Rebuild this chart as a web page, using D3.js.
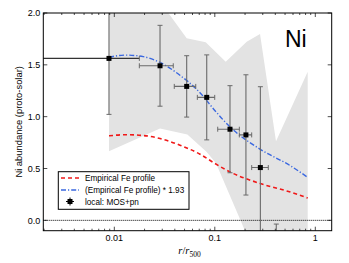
<!DOCTYPE html>
<html><head><meta charset="utf-8">
<script src="https://cdn.jsdelivr.net/npm/d3@7"></script>
<style>body{margin:0;background:#fff}svg{display:block}</style>
</head><body>
<svg id="c" width="349" height="263"></svg>
<script>
// ---- data ----
const pointR   = [0.00885, 0.0285, 0.0525, 0.0831, 0.1416, 0.204, 0.284, 0.409];
const pointRlo = [0,       0.01774, 0.0395, 0.067, 0.1069, 0.1754, 0.2328, 0.37];
const pointRhi = [0.01774, 0.0386, 0.0646, 0.0998, 0.1754, 0.2328, 0.3405, 0.45];
const pointV   = [1.562, 1.491, 1.292, 1.186, 0.879, 0.824, 0.509, -0.45];
const pointErr = [0.54, 0.39, 0.296, 0.41, 0.42, 0.58, 0.78, 0.414];

const feR = [0.00886, 0.01278, 0.01943, 0.02849, 0.04496, 0.0712, 0.1005, 0.1416, 0.2836, 0.5639, 0.840];
const feV = [0.815, 0.826, 0.818, 0.789, 0.725, 0.638, 0.548, 0.467, 0.355, 0.273, 0.215];
const feScale = 1.93;

const bandUpperR = [0.00885, 0.0345, 0.0525, 0.0812, 0.1284, 0.2077, 0.2818, 0.4064, 0.840, 0.840];
const bandUpperV = [2.30, 2.00, 1.756, 1.717, 1.529, 1.723, 1.797, 0.763, 1.433, -0.5];
const bandLowerR = [0.23, 0.2001, 0.1028, 0.0831, 0.0533, 0.0285, 0.00885];
const bandLowerV = [-0.5, -0.103, 0.551, 0.660, 0.828, 0.886, 0.667];

const yTicks = [0.0, 0.5, 1.0, 1.5, 2.0];
const xTicks = [0.01, 0.1, 1];
const xTickLabels = ["0.01", "0.1", "1"];
const legendLabels = ["Empirical Fe profile", "(Empirical Fe profile) * 1.93", "local: MOS+pn"];

// ---- layout ----
const L = 43.3, R = 331.7, T = 13, B = 230.7;
const svg = d3.select("#c");
const x = d3.scaleLog().domain([0.001965, 1.456]).range([L, R]);
const y = d3.scaleLinear().domain([-0.1, 2.0]).range([B, T]);
const font = "'Liberation Sans', Arial, sans-serif";

svg.append("clipPath").attr("id","clip").append("rect")
  .attr("x", L).attr("y", T).attr("width", R - L).attr("height", B - T);
const g = svg.append("g").attr("clip-path", "url(#clip)");

// band
const bandPts = bandUpperR.map((r,i)=>[r, bandUpperV[i]]).concat(bandLowerR.map((r,i)=>[r, bandLowerV[i]]));
g.append("path")
  .attr("d", d3.line().x(d=>x(d[0])).y(d=>y(d[1]))(bandPts) + "Z")
  .attr("fill", "#e3e3e3").attr("stroke", "none");

// zero dotted line
g.append("line").attr("x1", L).attr("x2", R).attr("y1", y(0)).attr("y2", y(0))
  .attr("stroke", "#000").attr("stroke-width", 1).attr("stroke-dasharray", "1,1");

// curves
const line = d3.line().x(d=>x(d[0])).y(d=>y(d[1])).curve(d3.curveMonotoneX);
g.append("path").attr("d", line(feR.map((r,i)=>[r, feV[i]])))
  .attr("fill","none").attr("stroke","#f01818").attr("stroke-width",1.6).attr("stroke-dasharray","4,3");
g.append("path").attr("d", line(feR.map((r,i)=>[r, feV[i]*feScale])))
  .attr("fill","none").attr("stroke","#3a68e0").attr("stroke-width",1.4).attr("stroke-dasharray","5,2,1.2,2");

// error bars
const eb = "#6a6a6a", cap = 2.5;
pointR.forEach((r,i)=>{
  const cx = x(r), cy = y(pointV[i]);
  const yt = y(pointV[i]+pointErr[i]), yb = y(pointV[i]-pointErr[i]);
  const xl = x(Math.max(pointRlo[i], x.domain()[0]*0.5)), xr = x(pointRhi[i]);
  g.append("line").attr("x1",cx).attr("x2",cx).attr("y1",yt).attr("y2",yb).attr("stroke",eb).attr("stroke-width",1.1);
  [yt,yb].forEach(yy=>g.append("line").attr("x1",cx-cap).attr("x2",cx+cap).attr("y1",yy).attr("y2",yy).attr("stroke",eb).attr("stroke-width",1));
  g.append("line").attr("x1",xl).attr("x2",xr).attr("y1",cy).attr("y2",cy).attr("stroke", i===0 ? "#333" : eb).attr("stroke-width",1.1);
  [xl,xr].forEach(xx=>g.append("line").attr("x1",xx).attr("x2",xx).attr("y1",cy-cap).attr("y2",cy+cap).attr("stroke",eb).attr("stroke-width",1));
  g.append("rect").attr("x",cx-2.5).attr("y",cy-2.5).attr("width",5).attr("height",5).attr("fill","#000");
});

// frame
svg.append("rect").attr("x",L).attr("y",T).attr("width",R-L).attr("height",B-T)
  .attr("fill","none").attr("stroke","#000").attr("stroke-width",1);

// ticks
const tickG = svg.append("g").attr("stroke","#000").attr("stroke-width",0.7);
yTicks.forEach(v=>{
  tickG.append("line").attr("x1",L).attr("x2",L+4).attr("y1",y(v)).attr("y2",y(v));
  tickG.append("line").attr("x1",R).attr("x2",R-4).attr("y1",y(v)).attr("y2",y(v));
});
const minor = [];
for (let e=-3; e<=0; e++) for (let k=1;k<=9;k++){ const v=k*Math.pow(10,e); if (v>=x.domain()[0] && v<=x.domain()[1]) minor.push([v,k===1]); }
minor.forEach(([v,maj])=>{
  const len = maj ? 4 : 2;
  tickG.append("line").attr("x1",x(v)).attr("x2",x(v)).attr("y1",B).attr("y2",B-len);
  tickG.append("line").attr("x1",x(v)).attr("x2",x(v)).attr("y1",T).attr("y2",T+len);
});

// tick labels
yTicks.forEach(v=>{
  svg.append("text").attr("x",L-3).attr("y",y(v)+3.2).attr("text-anchor","end")
    .attr("font-family",font).attr("font-size",9).text(d3.format(".1f")(v));
});
xTicks.forEach((v,i)=>{
  svg.append("text").attr("x",x(v)).attr("y",B+10).attr("text-anchor","middle")
    .attr("font-family",font).attr("font-size",9).text(xTickLabels[i]);
});

// axis labels
svg.append("text").attr("transform",`translate(22,${(T+B)/2}) rotate(-90)`).attr("text-anchor","middle")
  .attr("font-family",font).attr("font-size",9.4).text("Ni abundance (proto-solar)");
const xl = svg.append("text").attr("x",(L+R)/2+2).attr("y",254).attr("text-anchor","middle")
  .attr("font-family","'Liberation Serif', 'Times New Roman', serif").attr("font-size",10.5);
xl.append("tspan").attr("font-style","italic").text("r");
xl.append("tspan").text("/");
xl.append("tspan").attr("font-style","italic").text("r");
xl.append("tspan").attr("font-size",7.5).attr("dy",2.5).text("500");

// Ni label
svg.append("text").attr("x",285).attr("y",46.5).attr("font-family",font).attr("font-size",23).text("Ni");

// legend
const lg = svg.append("g");
lg.append("rect").attr("x",58.3).attr("y",171.7).attr("width",130.7).attr("height",37.6)
  .attr("fill","#fff").attr("stroke","#000").attr("stroke-width",1);
const ly = [178, 190, 201.5];
lg.append("line").attr("x1",61).attr("x2",79).attr("y1",ly[0]).attr("y2",ly[0])
  .attr("stroke","#f01818").attr("stroke-width",1.6).attr("stroke-dasharray","4,3");
lg.append("line").attr("x1",61).attr("x2",79).attr("y1",ly[1]).attr("y2",ly[1])
  .attr("stroke","#3a68e0").attr("stroke-width",1.4).attr("stroke-dasharray","5,2,1.2,2");
lg.append("line").attr("x1",70).attr("x2",70).attr("y1",ly[2]-4).attr("y2",ly[2]+4).attr("stroke","#000").attr("stroke-width",1);
lg.append("line").attr("x1",66).attr("x2",74).attr("y1",ly[2]).attr("y2",ly[2]).attr("stroke","#000").attr("stroke-width",1);
lg.append("rect").attr("x",67.5).attr("y",ly[2]-2.5).attr("width",5).attr("height",5).attr("fill","#000");
legendLabels.forEach((t,i)=>{
  lg.append("text").attr("x",85).attr("y",ly[i]+3).attr("font-family",font).attr("font-size",8.2).text(t);
});
</script>
</body></html>
